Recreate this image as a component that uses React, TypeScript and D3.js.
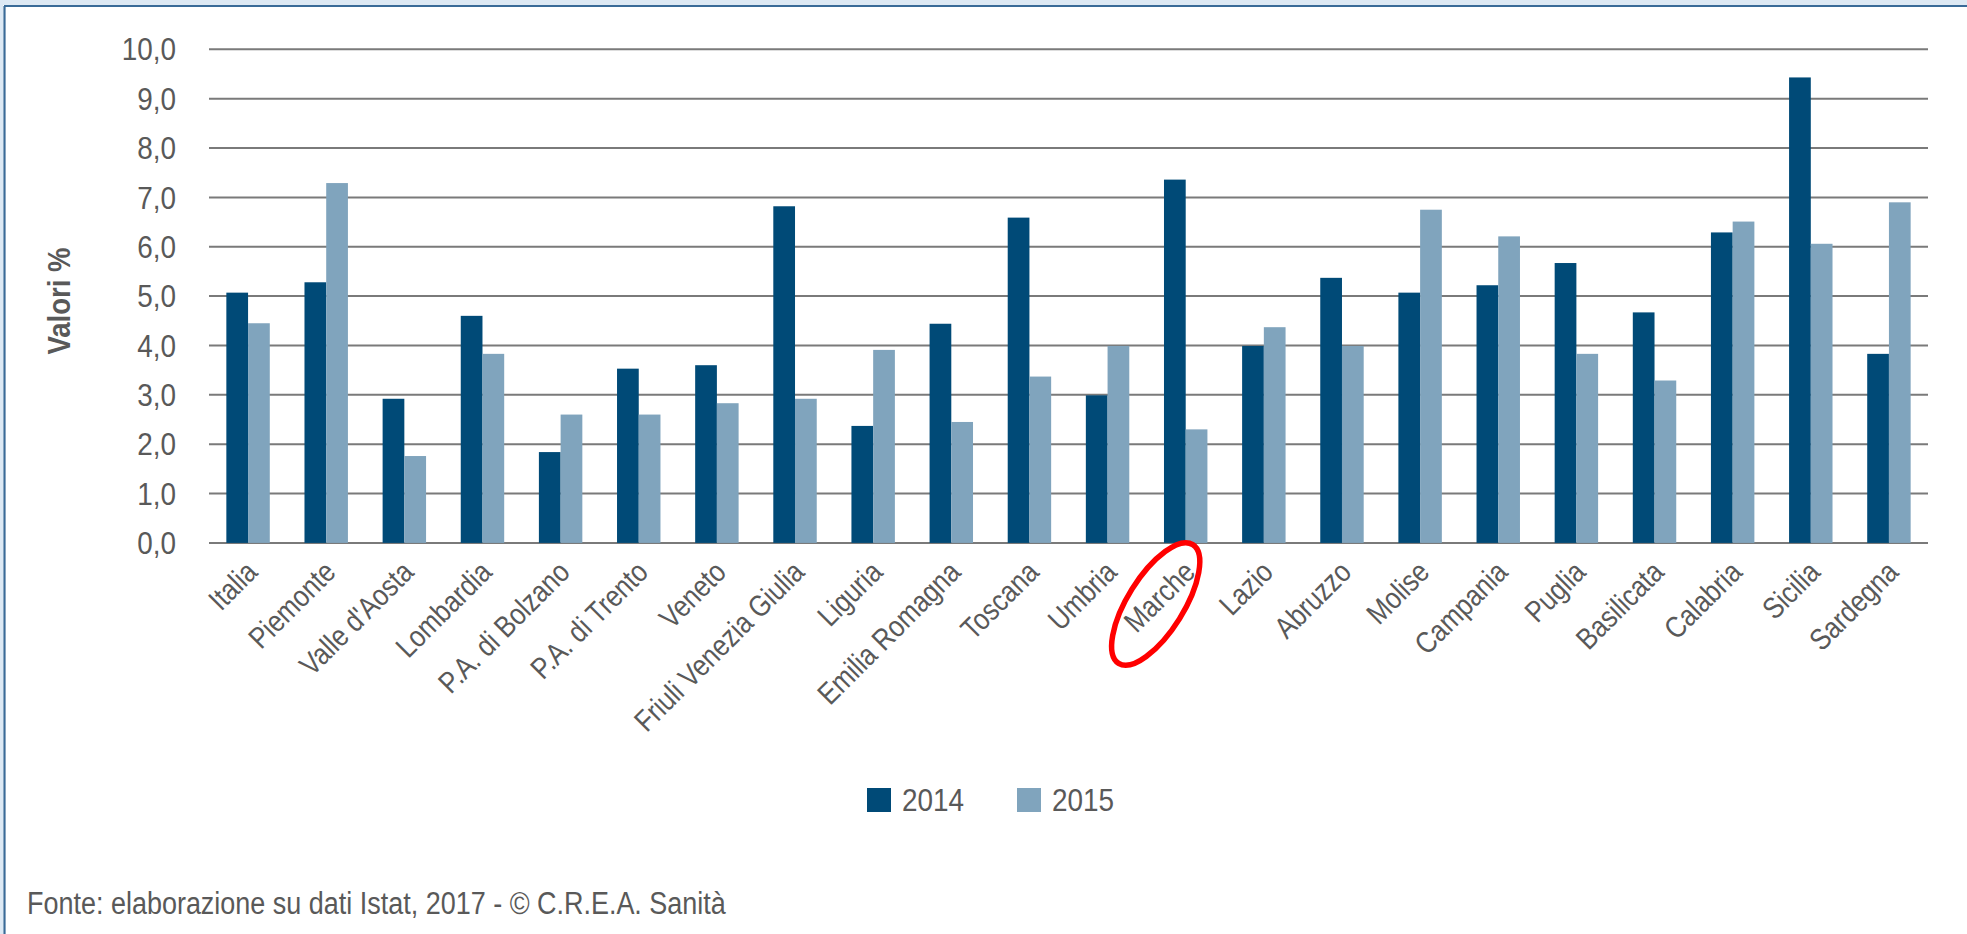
import React from "react";
import * as d3 from "d3";

const categories = [
  "Italia", "Piemonte", "Valle d'Aosta", "Lombardia", "P.A. di Bolzano", "P.A. di Trento",
  "Veneto", "Friuli Venezia Giulia", "Liguria", "Emilia Romagna", "Toscana", "Umbria",
  "Marche", "Lazio", "Abruzzo", "Molise", "Campania", "Puglia", "Basilicata", "Calabria",
  "Sicilia", "Sardegna",
];
const values2014 = [5.07, 5.28, 2.92, 4.6, 1.84, 3.53, 3.6, 6.82, 2.37, 4.44, 6.59, 2.99, 7.36, 3.99, 5.37, 5.07, 5.22, 5.67, 4.67, 6.29, 9.43, 3.83];
const values2015 = [4.45, 7.29, 1.76, 3.83, 2.6, 2.6, 2.83, 2.92, 3.91, 2.45, 3.37, 3.99, 2.3, 4.37, 3.99, 6.75, 6.21, 3.83, 3.29, 6.51, 6.06, 6.9];
const seriesNames = ["2014", "2015"];
const seriesColors = ["#004a77", "#80a4bd"];
const yTicks = [0, 1, 2, 3, 4, 5, 6, 7, 8, 9, 10];
const yAxisTitle = "Valori %";
const footerText = "Fonte: elaborazione su dati Istat, 2017 - © C.R.E.A. Sanità";
const highlighted = "Marche";

const W = 1967;
const H = 934;
const FONT = "'Liberation Sans', Arial, sans-serif";
const TEXT = "#595959";

type TxtProps = {
  x: number;
  y: number;
  rot?: number;
  sx: number;
  size: number;
  anchor?: "start" | "middle" | "end";
  weight?: string;
  dy?: string;
  children: React.ReactNode;
};

function Txt({ x, y, rot = 0, sx, size, anchor = "start", weight = "normal", dy, children }: TxtProps) {
  return (
    <text
      transform={`translate(${x},${y}) rotate(${rot}) scale(${sx},1)`}
      textAnchor={anchor}
      fontFamily={FONT}
      fontSize={size}
      fontWeight={weight}
      fill={TEXT}
      dy={dy}
    >
      {children}
    </text>
  );
}

export default function App() {
  const left = 209;
  const right = 1928;
  const top = 49.3;
  const bottom = 542.9;

  const x0 = d3.scaleBand<string>().domain(categories).range([left, right]).paddingInner(0.444).paddingOuter(0.222);
  const x1 = d3.scaleBand<string>().domain(seriesNames).range([0, x0.bandwidth()]);
  const y = d3.scaleLinear().domain([0, 10]).range([bottom, top]);
  const fmt = (v: number) => d3.format(".1f")(v).replace(".", ",");
  const series = [values2014, values2015];

  const mc = (x0(highlighted) as number) + x0.bandwidth() / 2;

  return (
    <svg width={W} height={H} style={{ position: "absolute", left: 0, top: 0, background: "#fff" }}>
      <rect x={0} y={0} width={W} height={H} fill="#fff" />
      {/* frame */}
      <rect x={0} y={0} width={W} height={5} fill="#dde9f4" />
      <rect x={0} y={0} width={3} height={H} fill="#dde9f4" />
      <line x1={4} x2={W} y1={6} y2={6} stroke="#3a6b98" strokeWidth={2.2} />
      <line x1={4.5} x2={4.5} y1={6} y2={H} stroke="#3a6b98" strokeWidth={2.2} />

      {/* gridlines */}
      {yTicks.map((t) => (
        <line key={t} x1={left} x2={right} y1={y(t)} y2={y(t)} stroke="#7a7a7a" strokeWidth={2} />
      ))}
      {yTicks.map((t) => (
        <Txt key={"l" + t} x={176} y={y(t)} dy="0.36em" anchor="end" size={31} sx={0.9}>
          {fmt(t)}
        </Txt>
      ))}
      <Txt x={70} y={301} rot={-90} anchor="middle" size={32} sx={0.86} weight="bold">
        {yAxisTitle}
      </Txt>

      {/* bars */}
      {categories.map((c, i) => (
        <g key={c} transform={`translate(${x0(c)},0)`}>
          {series.map((s, j) => (
            <rect
              key={j}
              x={x1(seriesNames[j])}
              y={y(s[i])}
              width={x1.bandwidth()}
              height={y(0) - y(s[i])}
              fill={seriesColors[j]}
            />
          ))}
        </g>
      ))}

      {/* x labels */}
      {categories.map((c) => {
        const cx = (x0(c) as number) + x0.bandwidth() / 2 + 11;
        return (
          <Txt key={"x" + c} x={cx} y={574} rot={-45} anchor="end" size={30} sx={0.85}>
            {c}
          </Txt>
        );
      })}

      {/* highlight ellipse */}
      <ellipse
        transform={`translate(${mc - 30},604) rotate(-58)`}
        cx={0}
        cy={0}
        rx={70}
        ry={28}
        fill="none"
        stroke="#ff0000"
        strokeWidth={5.5}
      />

      {/* legend */}
      {seriesNames.map((n, j) => {
        const lx = j === 0 ? 867 : 1017;
        return (
          <g key={n}>
            <rect x={lx} y={788} width={24} height={24} fill={seriesColors[j]} />
            <Txt x={lx + 35} y={811} size={31} sx={0.9}>
              {n}
            </Txt>
          </g>
        );
      })}

      {/* footer */}
      <Txt x={27} y={914} size={31} sx={0.87}>
        {footerText}
      </Txt>
    </svg>
  );
}
